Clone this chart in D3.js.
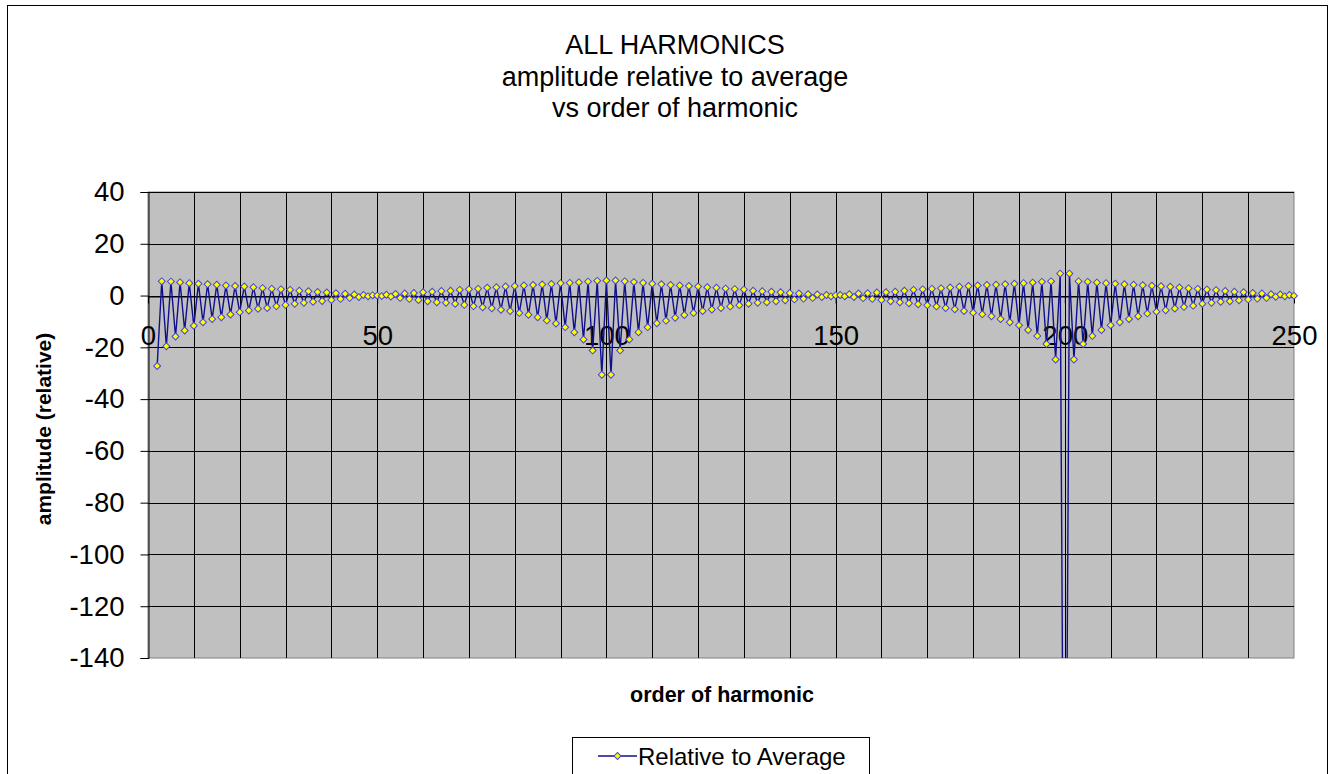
<!DOCTYPE html>
<html>
<head>
<meta charset="utf-8">
<script src="https://d3js.org/d3.v7.min.js"></script>
<style>
body { margin: 0; background: #fff; }
text { font-family: "Liberation Sans", Arial, sans-serif; fill: #000; }
</style>
</head>
<body>
<svg width="1331" height="774"></svg>
<script>
var svg = d3.select("svg");

// harmonic order (2..250) and amplitude relative to average
var harmonics = d3.range(2, 251);
var relative = [
  -27.2, 5.5, -19.6, 5.4, -15.8, 5.1, -13.5, 4.8, -11.7,          // 2-10
  4.6, -10.3, 4.4, -9.1, 4.2, -8.4, 3.9, -7.3, 3.7, -6.4,          // 11-20
  3.5, -5.8, 3.2, -5.1, 2.9, -4.8, 2.6, -4.1, 2.4, -3.6,           // 21-30
  2.2, -3.2, 1.9, -2.8, 1.7, -2.4, 1.4, -2.1, 1.2, -1.7,           // 31-40
  0.9, -1.3, 0.7, -0.9, 0.4, -0.6, 0.2, -0.3, 0.1, 0.0,            // 41-50
  -0.2, 0.3, -0.4, 0.6, -0.9, 0.8, -1.3, 1.0, -1.7, 1.3,           // 51-60
  -2.2, 1.5, -2.6, 1.8, -2.8, 1.9, -3.2, 2.2, -3.6, 2.4,           // 61-70
  -4.1, 2.6, -4.5, 3.0, -4.9, 3.2, -5.5, 3.5, -6.0, 3.7,           // 71-80
  -6.7, 3.9, -7.4, 4.1, -8.4, 4.3, -9.6, 4.5, -10.8, 4.8,          // 81-90
  -12.2, 4.9, -14.2, 5.1, -17.0, 5.4, -21.2, 5.7, -30.6, 5.8,      // 91-100
  -30.6, 5.8, -21.2, 5.5, -17.0, 5.2, -14.2, 4.9, -12.2, 4.6,      // 101-110
  -10.7, 4.4, -9.7, 4.1, -8.6, 3.9, -7.5, 3.7, -6.7, 3.5,          // 111-120
  -6.0, 3.2, -5.4, 3.0, -4.8, 2.7, -4.2, 2.5, -3.7, 2.3,           // 121-130
  -3.2, 1.9, -2.8, 1.7, -2.6, 1.5, -2.2, 1.3, -1.8, 1.0,           // 131-140
  -1.5, 0.8, -1.2, 0.5, -0.9, 0.4, -0.6, 0.2, -0.3, 0.1,           // 141-150
  0.2, -0.3, 0.5, -0.6, 0.8, -1.0, 0.9, -1.3, 1.2, -1.7,           // 151-160
  1.3, -2.2, 1.5, -2.6, 1.9, -3.0, 2.2, -3.4, 2.4, -3.7,           // 161-170
  2.6, -4.2, 2.8, -4.8, 3.1, -5.3, 3.4, -6.0, 3.7, -6.6,           // 171-180
  3.9, -7.2, 4.1, -8.0, 4.2, -9.1, 4.4, -10.3, 4.6, -11.5,         // 181-190
  4.8, -13.3, 5.0, -15.6, 5.3, -18.7, 5.5, -24.7, 8.5, -300,       // 191-200
  8.5, -24.7, 5.5, -18.7, 5.3, -15.6, 5.0, -13.3, 4.8, -11.5,      // 201-210
  4.6, -10.3, 4.4, -9.1, 4.2, -8.0, 4.0, -6.9, 3.8, -6.3,          // 211-220
  3.6, -5.7, 3.4, -5.0, 3.1, -4.4, 2.8, -3.9, 2.6, -3.2,           // 221-230
  2.3, -2.8, 2.1, -2.4, 1.8, -2.2, 1.5, -1.8, 1.3, -1.5,           // 231-240
  1.0, -1.2, 0.8, -0.9, 0.5, -0.5, 0.4, -0.3, 0.2, -0.1            // 241-250
];
var yTicks = [40, 20, 0, -20, -40, -60, -80, -100, -120, -140];
var xLabels = [0, 50, 100, 150, 200, 250];
var titleLines = ["ALL HARMONICS", "amplitude relative to average", "vs order of harmonic"];

var data = harmonics.map(function(h, i) { return { n: h, v: relative[i] }; });

var x = d3.scaleLinear().domain([0, 250]).range([148, 1294]);
var y = d3.scaleLinear().domain([-140, 40]).range([658, 192]);

// outer chart border
svg.append("rect")
  .attr("x", 7.5).attr("y", 5.5)
  .attr("width", 1320).attr("height", 820)
  .attr("fill", "#fff").attr("stroke", "#000");

// title
svg.selectAll(".title")
  .data(titleLines)
  .enter().append("text")
  .attr("class", "title")
  .attr("x", 675)
  .attr("y", function(d, i) { return 54 + i * 31.5; })
  .attr("text-anchor", "middle")
  .attr("font-size", "27px")
  .text(function(d) { return d; });

// plot area
svg.append("rect")
  .attr("x", x(0)).attr("y", y(40))
  .attr("width", x(250) - x(0)).attr("height", y(-140) - y(40))
  .attr("fill", "#c0c0c0").attr("stroke", "#808080");

var grid = svg.append("g").attr("shape-rendering", "crispEdges");

// vertical gridlines every 10
grid.selectAll(".vgrid")
  .data(x.ticks(25).filter(function(d) { return d > 0 && d < 250; }))
  .enter().append("line")
  .attr("x1", function(d) { return Math.round(x(d)) + 0.5; })
  .attr("x2", function(d) { return Math.round(x(d)) + 0.5; })
  .attr("y1", y(40)).attr("y2", y(-140))
  .attr("stroke", "#000");

// horizontal gridlines every 20
grid.selectAll(".hgrid")
  .data(yTicks.filter(function(d) { return d > -140; }))
  .enter().append("line")
  .attr("x1", x(0)).attr("x2", x(250))
  .attr("y1", function(d) { return Math.round(y(d)) + 0.5; })
  .attr("y2", function(d) { return Math.round(y(d)) + 0.5; })
  .attr("stroke", "#000");

// left axis with outside ticks
var yAxis = svg.append("g")
  .attr("transform", "translate(" + (Math.round(x(0)) + 0.5) + ",0)")
  .call(d3.axisLeft(y).tickValues(yTicks).tickSize(8).tickPadding(16));
yAxis.select(".domain").attr("stroke", "#000");
yAxis.selectAll("line").attr("stroke", "#000");
yAxis.selectAll("text")
  .attr("font-size", "27.5px")
  .attr("font-family", "Liberation Sans, Arial, sans-serif")
  .attr("fill", "#000")
  .text(function(d) { return d < 0 ? "-" + Math.abs(d) : d; });

// bottom axis sits on the zero line
var xAxis = svg.append("g")
  .attr("transform", "translate(0," + (Math.round(y(0)) + 0.5) + ")")
  .call(d3.axisBottom(x).tickValues(xLabels).tickSize(7).tickSizeOuter(0).tickPadding(22));
xAxis.select(".domain").attr("stroke", "#000");
xAxis.selectAll("line").attr("stroke", "#000");
xAxis.selectAll("text")
  .attr("font-size", "27.5px")
  .attr("font-family", "Liberation Sans, Arial, sans-serif")
  .attr("fill", "#000");

// axis titles
svg.append("text")
  .attr("x", 722).attr("y", 702)
  .attr("text-anchor", "middle")
  .attr("font-size", "21.5px")
  .attr("font-weight", "bold")
  .text("order of harmonic");

svg.append("text")
  .attr("transform", "translate(51,429) rotate(-90)")
  .attr("text-anchor", "middle")
  .attr("font-size", "21px")
  .attr("font-weight", "bold")
  .text("amplitude (relative)");

// series, clipped to the plot area
svg.append("clipPath").attr("id", "plotclip")
  .append("rect")
  .attr("x", x(0) - 6).attr("y", y(40) - 6)
  .attr("width", x(250) - x(0) + 12).attr("height", y(-140) - y(40) + 6);

var series = svg.append("g").attr("clip-path", "url(#plotclip)");

var line = d3.line()
  .x(function(d) { return x(d.n); })
  .y(function(d) { return y(d.v); });

series.append("path")
  .datum(data)
  .attr("d", line)
  .attr("fill", "none")
  .attr("stroke", "#10108a")
  .attr("stroke-width", 1.4)
  .attr("stroke-linejoin", "round");

var diamond = d3.symbol().type(d3.symbolSquare).size(24);
series.selectAll(".pt")
  .data(data)
  .enter().append("path")
  .attr("class", "pt")
  .attr("d", diamond)
  .attr("transform", function(d) { return "translate(" + x(d.n) + "," + y(d.v) + ") rotate(45)"; })
  .attr("fill", "#ffff00")
  .attr("stroke", "#4646d8")
  .attr("stroke-width", 1);

// legend
var legend = svg.append("g");
legend.append("rect")
  .attr("x", 572.5).attr("y", 737.5)
  .attr("width", 297).attr("height", 60)
  .attr("fill", "#fff").attr("stroke", "#000");
legend.append("line")
  .attr("x1", 598).attr("x2", 637)
  .attr("y1", 756).attr("y2", 756)
  .attr("stroke", "#10108a").attr("stroke-width", 1.4);
legend.append("path")
  .attr("d", diamond)
  .attr("transform", "translate(617.5,756) rotate(45)")
  .attr("fill", "#ffff00").attr("stroke", "#4646d8");
legend.append("text")
  .attr("x", 638).attr("y", 765)
  .attr("font-size", "24px")
  .text("Relative to Average");
</script>
</body>
</html>
